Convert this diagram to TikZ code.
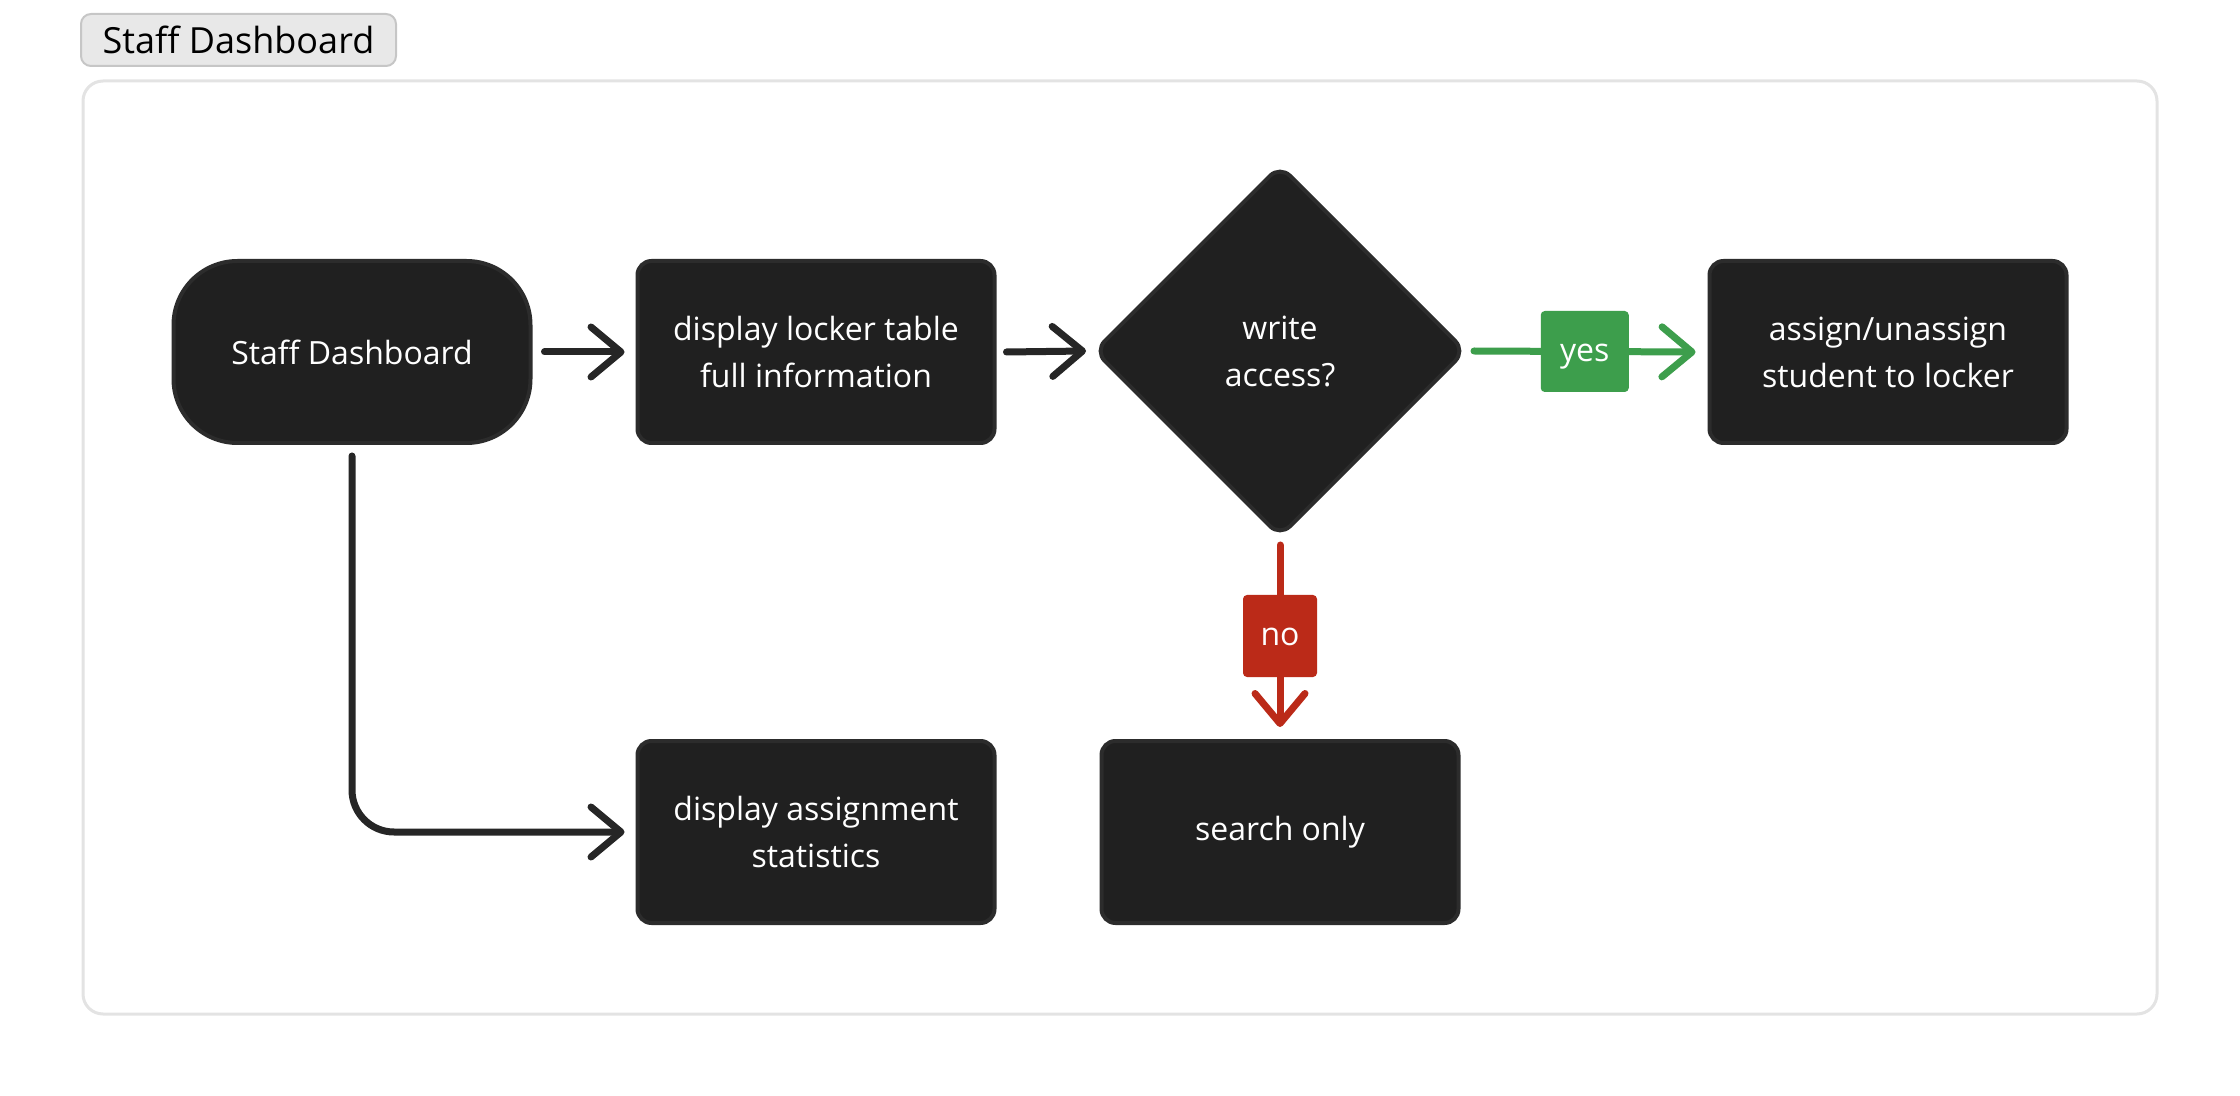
\documentclass[tikz,border=0pt]{standalone}
\usepackage{fontspec}
\setmainfont{Open Sans}
\usetikzlibrary{arrows.meta,shapes.geometric}
\definecolor{nodefill}{HTML}{202020}
\definecolor{nodeedge}{HTML}{2C2C2C}
\definecolor{yesgreen}{HTML}{3D9E4C}
\definecolor{nored}{HTML}{BB2A18}
\definecolor{framegray}{HTML}{E3E3E3}
\definecolor{tabfill}{HTML}{E8E8E8}
\definecolor{tabedge}{HTML}{C6C6C6}
\definecolor{linedark}{HTML}{262626}
\tikzset{
  base/.style={fill=nodefill, draw=nodeedge, line width=2pt, text=white,
    font=\fontsize{16pt}{23.5pt}\selectfont, align=center, inner sep=0pt},
  procbox/.style={base, rectangle, rounded corners=7pt, minimum width=178.5pt, minimum height=91pt},
  startbox/.style={base, rectangle, rounded corners=32pt, minimum width=178.5pt, minimum height=91pt},
  decbox/.style={base, diamond, aspect=1, rounded corners=7pt, minimum width=186pt, minimum height=186pt},
  arr/.style={line width=3.5pt, line cap=round, line join=round,
    -{Straight Barb[length=15pt,width=25pt,line width=3.5pt,line cap=round,line join=round]}},
  lab/.style={rectangle, rounded corners=2pt, text=white, inner sep=0pt,
    text height=10pt, text depth=0pt, font=\fontsize{16pt}{18pt}\selectfont},
}
\begin{document}
\begin{tikzpicture}[x=0.5pt,y=-0.5pt]
\useasboundingbox (0,0) rectangle (2240,1096);
% frame and tab
\draw[framegray, line width=1.5pt, rounded corners=10pt, fill=white] (83,81) rectangle (2157,1014);
\node[fill=tabfill, draw=tabedge, line width=1pt, rounded corners=5pt,
  minimum width=157.5pt, minimum height=26pt, inner sep=0pt,
  font=\fontsize{18pt}{20pt}\selectfont] (tab) at (238.5,40) {Staff Dashboard};
% nodes
\node[startbox] (sd) at (352,352) {Staff Dashboard};
\node[procbox] (lock) at (816,352) {display locker table\\full information};
\node[decbox] (dec) at (1280,351) {write\\access?};
\node[procbox] (asg) at (1888,352) {assign/unassign\\student to locker};
\node[procbox] (stats) at (816,832) {display assignment\\statistics};
\node[procbox] (srch) at (1280,832) {search only};
% connectors
\draw[arr, linedark] ([xshift=6pt]sd.east) -- ([xshift=-5.5pt]lock.west);
\draw[arr, linedark] ([xshift=5pt]lock.east) -- ([xshift=-3pt]dec.west);
\draw[arr, yesgreen] ([xshift=3pt]dec.east) -- ([xshift=-6pt]asg.west)
  node[lab, fill=yesgreen, minimum width=44pt, minimum height=40.5pt, pos=0.5] (yes) {yes};
\draw[arr, nored] ([yshift=-3pt]dec.south) -- ([yshift=6pt]srch.north)
  node[lab, fill=nored, minimum width=37pt, minimum height=41pt, pos=0.5] (no) {no};
\coordinate (bend) at (sd.south |- stats.west);
\draw[arr, linedark, rounded corners=21pt] ([yshift=-5.5pt]sd.south) -- (bend) -- ([xshift=-5.5pt]stats.west);
\end{tikzpicture}
\end{document}
